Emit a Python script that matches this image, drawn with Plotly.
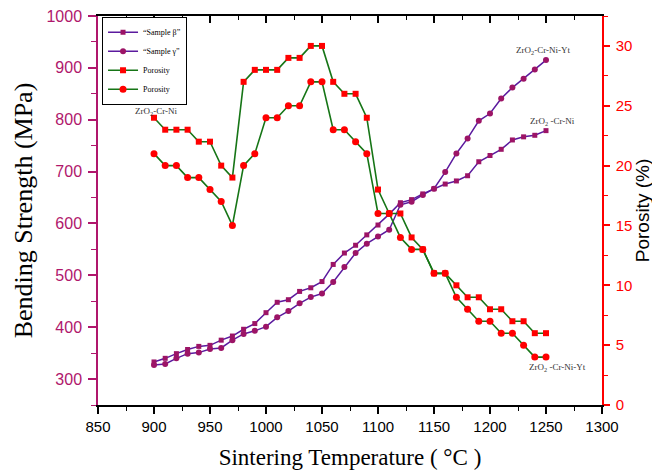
import plotly.graph_objects as go

temps = list(range(900, 1251, 10))

strength_cr_ni = [333, 340, 349, 357, 363, 365, 375, 383, 396, 407,
                  428, 448, 453, 469, 476, 488, 521, 543, 558, 578,
                  597, 618, 640, 646, 657, 667, 676, 682, 692, 719,
                  731, 743, 761, 767, 770, 779]
strength_yt = [327, 329, 340, 349, 351, 358, 360, 375, 387, 393,
               401, 419, 431, 446, 458, 465, 487, 516, 543, 561,
               575, 588, 636, 642, 655, 667, 699, 735, 764, 798,
               812, 841, 862, 879, 897, 915]

porosity_cr_ni = [24, 23, 23, 23, 22, 22, 20, 19, 27, 28,
                  28, 28, 29, 29, 30, 30, 27, 26, 26, 24,
                  18, 16, 16, 14, 13, 11, 11, 10, 9, 9,
                  8, 8, 7, 7, 6, 6]
porosity_yt = [21, 20, 20, 19, 19, 18, 17, 15, 20, 21,
               24, 24, 25, 25, 27, 27, 23, 23, 22, 21,
               16, 16, 14, 13, 13, 11, 11, 9, 8, 7,
               7, 6, 6, 5, 4, 4]

names = ["\u201cSample \u03b2\u201d", "\u201cSample \u03b3\u201d", "Porosity", "Porosity"]

PURPLE = "#5B1A9E"
MAG = "#9C1466"
AXMAG = "#B0176C"
GREEN = "#167516"
RED = "#FF0000"

fig = go.Figure()
fig.add_trace(go.Scatter(x=temps, y=strength_cr_ni, name=names[0], mode="lines+markers",
                         line=dict(color=PURPLE, width=1.5),
                         marker=dict(symbol="square", size=5, color=MAG)))
fig.add_trace(go.Scatter(x=temps, y=strength_yt, name=names[1], mode="lines+markers",
                         line=dict(color=PURPLE, width=1.5),
                         marker=dict(symbol="circle", size=6, color=MAG)))
fig.add_trace(go.Scatter(x=temps, y=porosity_cr_ni, name=names[2], mode="lines+markers",
                         yaxis="y2", line=dict(color=GREEN, width=1.6),
                         marker=dict(symbol="square", size=6, color=RED)))
fig.add_trace(go.Scatter(x=temps, y=porosity_yt, name=names[3], mode="lines+markers",
                         yaxis="y2", line=dict(color=GREEN, width=1.6),
                         marker=dict(symbol="circle", size=7, color=RED)))
# empty trace to activate the top (mirror) axis
fig.add_trace(go.Scatter(x=[], y=[], xaxis="x2", showlegend=False, hoverinfo="skip"))

ann_font = dict(family="Liberation Serif", size=9, color="#333333")
annotations = [
    dict(x=902, y=24.5, xref="x", yref="y2", text="ZrO<sub>2</sub>-Cr-Ni"),
    dict(x=1247, y=934, xref="x", yref="y", text="ZrO<sub>2</sub>-Cr-Ni-Yt"),
    dict(x=1256, y=797, xref="x", yref="y", text="ZrO<sub>2</sub> -Cr-Ni"),
    dict(x=1260, y=3.1, xref="x", yref="y2", text="ZrO<sub>2</sub> -Cr-Ni-Yt"),
]
for a in annotations:
    a.update(showarrow=False, font=ann_font)

# page body has an 8px default margin, so the figure is sized/offset to compensate
fig.update_layout(
    width=652, height=464,
    margin=dict(l=90, r=58, t=8, b=67, autoexpand=False),
    paper_bgcolor="white", plot_bgcolor="white",
    showlegend=True,
    legend=dict(x=0.008, y=0.998, xanchor="left", yanchor="top",
                bgcolor="white", bordercolor="black", borderwidth=1,
                font=dict(family="Liberation Serif", size=8, color="black"),
                tracegroupgap=0, itemwidth=30),
    annotations=annotations,
    xaxis=dict(range=[850, 1300], dtick=50, tick0=850, showgrid=False, zeroline=False,
               automargin=False, ticklabeloverflow="allow",
               showline=True, linecolor="black", linewidth=1.5,
               ticks="outside", ticklen=7, tickwidth=1.5, tickcolor="black",
               minor=dict(dtick=25, ticks="outside", ticklen=4, tickcolor="black", tickwidth=1.2),
               tickfont=dict(family="Liberation Sans", size=15, color="black"),
               title=dict(text="Sintering Temperature ( \u00b0C )",
                          font=dict(family="Liberation Serif", size=23, color="black"),
                          standoff=15)),
    xaxis2=dict(range=[850, 1300], dtick=50, tick0=850, overlaying="x", side="top",
                anchor="y", showgrid=False, zeroline=False, showticklabels=False,
                automargin=False,
                showline=True, linecolor="black", linewidth=1.5,
                ticks="inside", ticklen=7, tickwidth=1.5, tickcolor="black",
                minor=dict(dtick=25, ticks="inside", ticklen=4, tickcolor="black", tickwidth=1.2)),
    yaxis=dict(range=[250, 1000], dtick=100, tick0=300, showgrid=False, zeroline=False,
               automargin=False, ticklabeloverflow="allow",
               showline=True, linecolor=AXMAG, linewidth=1.5,
               ticks="outside", ticklen=8, tickwidth=1.5, tickcolor=AXMAG,
               minor=dict(dtick=50, ticks="outside", ticklen=5, tickcolor=AXMAG, tickwidth=1.2),
               tickfont=dict(family="Liberation Sans", size=16, color=AXMAG),
               ticklabelstandoff=3,
               title=dict(text="Bending Strength (MPa)",
                          font=dict(family="Liberation Serif", size=26, color="black"),
                          standoff=6)),
    yaxis2=dict(range=[0, 32.5], dtick=5, tick0=0, overlaying="y", side="right",
                showgrid=False, zeroline=False, automargin=False, ticklabeloverflow="allow",
                showline=True, linecolor=RED, linewidth=1.5,
                ticks="outside", ticklen=6, tickwidth=1.5, tickcolor=RED,
                minor=dict(dtick=2.5, ticks="outside", ticklen=4, tickcolor=RED, tickwidth=1.2),
                tickfont=dict(family="Liberation Sans", size=15, color=RED),
                ticklabelstandoff=3,
                title=dict(text="Porosity (%)",
                           font=dict(family="Liberation Sans", size=19, color="black"),
                           standoff=4)),
)

fig.write_html("out.html")
